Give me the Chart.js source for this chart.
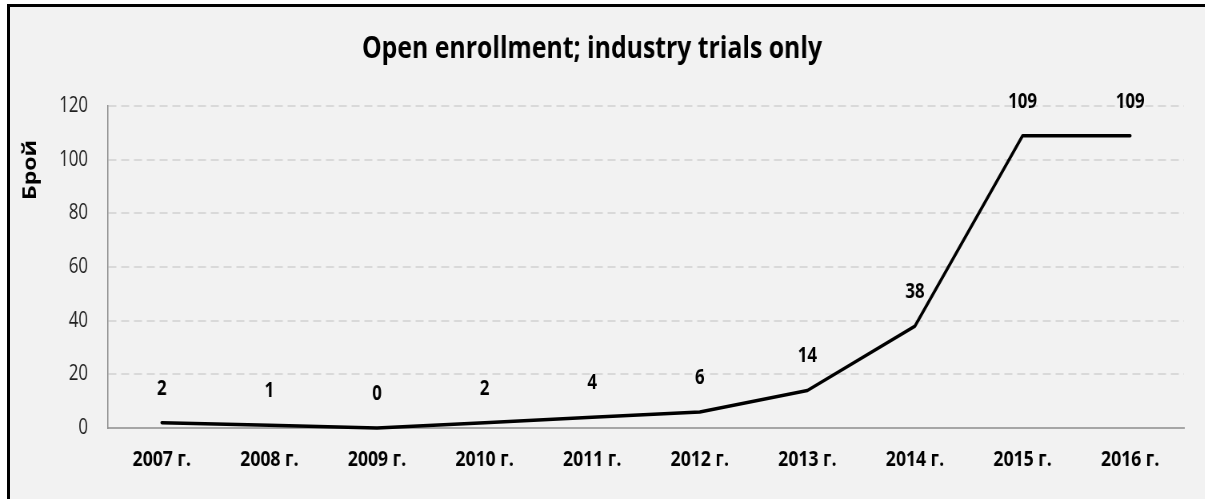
<!DOCTYPE html>
<html>
<head>
<meta charset="utf-8">
<script src="https://cdn.jsdelivr.net/npm/chart.js@4/dist/chart.umd.min.js"></script>
<style>
  html, body { margin: 0; padding: 0; background: #ffffff; overflow: hidden; }
  body { width: 1205px; height: 499px; position: relative; }
  #frame {
    position: absolute; left: 7px; top: 4px;
    width: 1300px; height: 600px;
    border: 3px solid #000; background: #f2f2f2;
  }
  #chart {
    position: absolute; left: 0; top: 0;
    transform: scaleX(0.8); transform-origin: 0 0;
  }
</style>
</head>
<body>
<div id="frame"></div>
<canvas id="chart" width="1506" height="499"></canvas>
<script>
// Yearly counts of openly enrolling, industry-sponsored trials
const years = ['2007 г.', '2008 г.', '2009 г.', '2010 г.', '2011 г.', '2012 г.', '2013 г.', '2014 г.', '2015 г.', '2016 г.'];
const trialCounts = [2, 1, 0, 2, 4, 6, 14, 38, 109, 109];
const yTicks = [0, 20, 40, 60, 80, 100, 120];

const chartTitle = 'Open enrollment; industry trials only';
const yAxisTitle = 'Брой';
const FONT = "'Open Sans', sans-serif";

// Value labels written above each point of the line
const valueLabels = {
  id: 'valueLabels',
  afterDatasetsDraw(chart) {
    const ctx = chart.ctx;
    const meta = chart.getDatasetMeta(0);
    ctx.save();
    ctx.font = "bold 21px " + FONT;
    ctx.fillStyle = '#000000';
    ctx.textAlign = 'center';
    ctx.textBaseline = 'middle';
    meta.data.forEach((pt, i) => {
      ctx.fillText(String(trialCounts[i]), pt.x, pt.y - 34);
    });
    ctx.restore();
  }
};

// Rotated title of the value axis, set near the upper part of the axis
const yTitle = {
  id: 'yTitle',
  afterDraw(chart) {
    const ctx = chart.ctx;
    ctx.save();
    ctx.translate(38, 170);
    ctx.rotate(-Math.PI / 2);
    ctx.font = "bold 23px " + FONT;
    ctx.fillStyle = '#000000';
    ctx.textAlign = 'center';
    ctx.textBaseline = 'middle';
    ctx.fillText(yAxisTitle, 0, 0);
    ctx.restore();
  }
};

new Chart(document.getElementById('chart'), {
  type: 'line',
  data: {
    labels: years,
    datasets: [{
      data: trialCounts,
      borderColor: '#000000',
      borderWidth: 3.5,
      borderJoinStyle: 'round',
      borderCapStyle: 'round',
      pointRadius: 0,
      pointHoverRadius: 0,
      tension: 0,
      fill: false,
      clip: false
    }]
  },
  options: {
    responsive: false,
    animation: false,
    devicePixelRatio: 1,
    layout: { padding: { left: 0, right: 26, top: 0, bottom: 0 } },
    plugins: {
      legend: { display: false },
      tooltip: { enabled: false },
      title: {
        display: true,
        text: chartTitle,
        color: '#000000',
        font: { family: FONT, size: 31, weight: 'bold', lineHeight: 1.2 },
        padding: { top: 31, bottom: 38 }
      }
    },
    scales: {
      x: {
        offset: true,
        grid: { display: false, drawTicks: false },
        border: { display: true, color: '#a6a6a6', width: 2 },
        ticks: {
          color: '#000000',
          padding: 19,
          maxRotation: 0,
          font: { family: FONT, size: 22, weight: 'bold' }
        },
        afterFit(scale) { scale.height = 71; }
      },
      y: {
        min: 0,
        max: 120,
        afterBuildTicks(scale) { scale.ticks = yTicks.map(v => ({ value: v })); },
        grid: {
          drawTicks: false,
          lineWidth: 2,
          color: (c) => (c.tick && c.tick.value === 0) ? 'rgba(0,0,0,0)' : '#d9d9d9'
        },
        border: { display: true, color: '#8c8c8c', width: 1.5, dash: [10, 6] },
        ticks: {
          color: '#1f1f1f',
          padding: 25,
          font: { family: FONT, size: 21 }
        },
        afterFit(scale) { scale.width = 135; }
      }
    }
  },
  plugins: [valueLabels, yTitle]
});
</script>
</body>
</html>
